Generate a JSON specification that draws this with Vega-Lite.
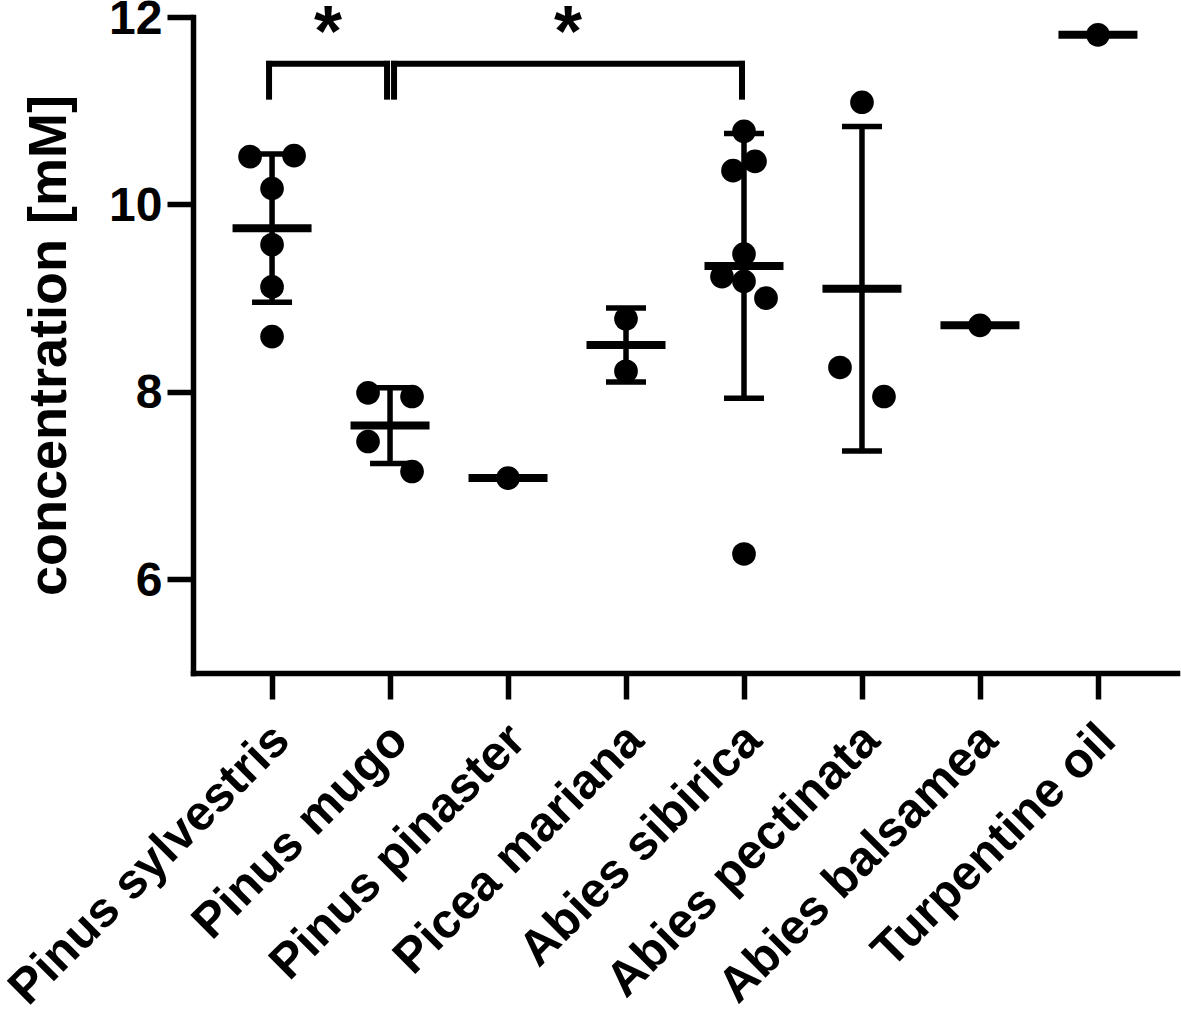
{
  "$schema": "https://vega.github.io/schema/vega-lite/v6.json",
  "width": 984,
  "height": 656,
  "autosize": {"type": "none"},
  "padding": {"left": 193, "top": 17, "right": 4, "bottom": 339},
  "background": "white",
  "config": {
    "view": {"stroke": null},
    "font": "Liberation Sans",
    "axisX": {
      "domainColor": "black", "domainWidth": 5.5, "domainCap": "square",
      "tickColor": "black", "tickWidth": 5.5, "tickSize": 26,
      "labelFont": "Liberation Sans", "labelFontSize": 49, "labelFontWeight": "bold", "labelColor": "black",
      "labelAngle": -45, "labelAlign": "right", "labelBaseline": "top",
      "labelPadding": 16, "labelOffset": -8, "labelLimit": 0, "labelOverlap": false, "labelBound": false, "labelFlush": false,
      "grid": false
    },
    "axisY": {
      "domainColor": "black", "domainWidth": 5.5, "domainCap": "square",
      "tickColor": "black", "tickWidth": 5.5, "tickSize": 26,
      "labelFont": "Liberation Sans", "labelFontSize": 48, "labelFontWeight": "bold", "labelColor": "black",
      "labelPadding": 5, "labelOffset": 2, "labelLimit": 0, "labelOverlap": false, "labelFlush": false, "labelBound": false,
      "titleFont": "Liberation Sans", "titleFontSize": 54, "titleFontWeight": "bold", "titleColor": "black",
      "titlePadding": 32,
      "grid": false
    }
  },
  "datasets": {
    "obs": [
      {"species": "Pinus sylvestris", "conc": 10.51, "lane": -1},
      {"species": "Pinus sylvestris", "conc": 10.52, "lane": 1},
      {"species": "Pinus sylvestris", "conc": 10.17, "lane": 0},
      {"species": "Pinus sylvestris", "conc": 9.57, "lane": 0},
      {"species": "Pinus sylvestris", "conc": 9.12, "lane": 0},
      {"species": "Pinus sylvestris", "conc": 8.59, "lane": 0},
      {"species": "Pinus mugo", "conc": 7.99, "lane": -1},
      {"species": "Pinus mugo", "conc": 7.95, "lane": 1},
      {"species": "Pinus mugo", "conc": 7.47, "lane": -1},
      {"species": "Pinus mugo", "conc": 7.15, "lane": 1},
      {"species": "Pinus pinaster", "conc": 7.08, "lane": 0},
      {"species": "Picea mariana", "conc": 8.78, "lane": 0},
      {"species": "Picea mariana", "conc": 8.22, "lane": 0},
      {"species": "Abies sibirica", "conc": 10.78, "lane": 0},
      {"species": "Abies sibirica", "conc": 10.46, "lane": 0.5},
      {"species": "Abies sibirica", "conc": 10.36, "lane": -0.5},
      {"species": "Abies sibirica", "conc": 9.47, "lane": 0},
      {"species": "Abies sibirica", "conc": 9.23, "lane": -1},
      {"species": "Abies sibirica", "conc": 9.18, "lane": 0},
      {"species": "Abies sibirica", "conc": 9.0, "lane": 1},
      {"species": "Abies sibirica", "conc": 6.27, "lane": 0},
      {"species": "Abies pectinata", "conc": 11.09, "lane": 0},
      {"species": "Abies pectinata", "conc": 8.26, "lane": -1},
      {"species": "Abies pectinata", "conc": 7.95, "lane": 1},
      {"species": "Abies balsamea", "conc": 8.71, "lane": 0},
      {"species": "Turpentine oil", "conc": 11.81, "lane": 0}
    ],
    "brackets": [
      {"id": "b1", "from": "Pinus sylvestris", "to": "Pinus mugo", "top": 11.5, "low": 11.15, "label": "*"},
      {"id": "b2", "from": "Pinus mugo", "to": "Abies sibirica", "top": 11.5, "low": 11.15, "label": "*"}
    ]
  },
  "layer": [
    {
      "data": {"name": "obs"},
      "mark": {"type": "errorbar", "extent": "stdev", "color": "black", "ticks": {"size": 40, "thickness": 5.5, "color": "black", "opacity": 1}, "rule": {"strokeWidth": 5.5, "color": "black", "opacity": 1}},
      "encoding": {
        "x": {"field": "species", "type": "nominal", "title": null,
              "scale": {"type": "point", "domain": ["Pinus sylvestris", "Pinus mugo", "Pinus pinaster", "Picea mariana", "Abies sibirica", "Abies pectinata", "Abies balsamea", "Turpentine oil"], "padding": 0.67}},
        "y": {"field": "conc", "type": "quantitative", "title": "concentration [mM]",
              "scale": {"domain": [5, 12], "nice": false, "zero": false},
              "axis": {"values": [6, 8, 10, 12], "format": "d"}}
      }
    },
    {
      "data": {"name": "obs"},
      "mark": {"type": "tick", "color": "black", "thickness": 8, "size": 79, "opacity": 1},
      "encoding": {
        "x": {"field": "species", "type": "nominal", "title": null},
        "y": {"aggregate": "mean", "field": "conc", "type": "quantitative", "title": "concentration [mM]"}
      }
    },
    {
      "data": {"name": "obs"},
      "mark": {"type": "circle", "color": "black", "size": 560, "opacity": 1},
      "encoding": {
        "x": {"field": "species", "type": "nominal", "title": null},
        "xOffset": {"field": "lane", "type": "quantitative", "scale": {"domain": [-1, 1], "range": [-22, 22]}},
        "y": {"field": "conc", "type": "quantitative", "title": "concentration [mM]"}
      }
    },
    {
      "data": {"name": "brackets"},
      "transform": [{"filter": "datum.id === 'b1'"}],
      "mark": {"type": "rule", "color": "black", "strokeWidth": 6, "strokeCap": "square", "xOffset": -3, "x2Offset": -3},
      "encoding": {
        "x": {"field": "from", "type": "nominal", "title": null},
        "x2": {"field": "to"},
        "y": {"field": "top", "type": "quantitative", "title": "concentration [mM]"}
      }
    },
    {
      "data": {"name": "brackets"},
      "transform": [{"filter": "datum.id === 'b1'"}],
      "mark": {"type": "rule", "color": "black", "strokeWidth": 6, "strokeCap": "square", "xOffset": -3},
      "encoding": {
        "x": {"field": "from", "type": "nominal", "title": null},
        "y": {"field": "top", "type": "quantitative", "title": "concentration [mM]"},
        "y2": {"field": "low"}
      }
    },
    {
      "data": {"name": "brackets"},
      "transform": [{"filter": "datum.id === 'b1'"}],
      "mark": {"type": "rule", "color": "black", "strokeWidth": 6, "strokeCap": "square", "xOffset": -3},
      "encoding": {
        "x": {"field": "to", "type": "nominal", "title": null},
        "y": {"field": "top", "type": "quantitative", "title": "concentration [mM]"},
        "y2": {"field": "low"}
      }
    },
    {
      "data": {"name": "brackets"},
      "transform": [{"filter": "datum.id === 'b2'"}],
      "mark": {"type": "rule", "color": "black", "strokeWidth": 6, "strokeCap": "square", "xOffset": 4, "x2Offset": -2},
      "encoding": {
        "x": {"field": "from", "type": "nominal", "title": null},
        "x2": {"field": "to"},
        "y": {"field": "top", "type": "quantitative", "title": "concentration [mM]"}
      }
    },
    {
      "data": {"name": "brackets"},
      "transform": [{"filter": "datum.id === 'b2'"}],
      "mark": {"type": "rule", "color": "black", "strokeWidth": 6, "strokeCap": "square", "xOffset": 4},
      "encoding": {
        "x": {"field": "from", "type": "nominal", "title": null},
        "y": {"field": "top", "type": "quantitative", "title": "concentration [mM]"},
        "y2": {"field": "low"}
      }
    },
    {
      "data": {"name": "brackets"},
      "transform": [{"filter": "datum.id === 'b2'"}],
      "mark": {"type": "rule", "color": "black", "strokeWidth": 6, "strokeCap": "square", "xOffset": -2},
      "encoding": {
        "x": {"field": "to", "type": "nominal", "title": null},
        "y": {"field": "top", "type": "quantitative", "title": "concentration [mM]"},
        "y2": {"field": "low"}
      }
    },
    {
      "data": {"name": "brackets"},
      "transform": [{"filter": "datum.id === 'b1'"}],
      "mark": {"type": "text", "color": "black", "font": "Liberation Sans", "fontWeight": "bold", "fontSize": 72, "baseline": "alphabetic", "align": "center", "dx": 56, "dy": -8},
      "encoding": {
        "x": {"field": "from", "type": "nominal", "title": null},
        "y": {"field": "top", "type": "quantitative", "title": "concentration [mM]"},
        "text": {"field": "label"}
      }
    },
    {
      "data": {"name": "brackets"},
      "transform": [{"filter": "datum.id === 'b2'"}],
      "mark": {"type": "text", "color": "black", "font": "Liberation Sans", "fontWeight": "bold", "fontSize": 72, "baseline": "alphabetic", "align": "center", "dx": 178, "dy": -8},
      "encoding": {
        "x": {"field": "from", "type": "nominal", "title": null},
        "y": {"field": "top", "type": "quantitative", "title": "concentration [mM]"},
        "text": {"field": "label"}
      }
    }
  ]
}
